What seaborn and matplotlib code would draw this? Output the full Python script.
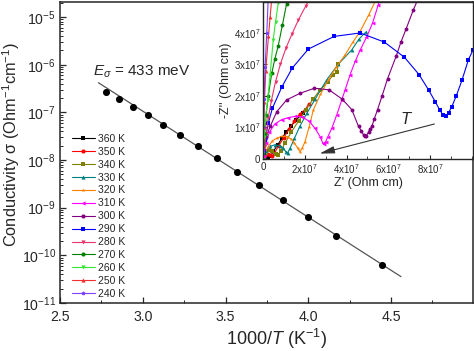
import numpy as np
import pandas as pd
import matplotlib
matplotlib.use('Agg')
import matplotlib.pyplot as plt
import matplotlib.ticker as mticker
import seaborn as sns

# Arrhenius plot data
temps = [360, 350, 340, 330, 320, 310, 300, 290, 280, 270, 260, 250, 240, 225]
sigma = [2.67e-7, 1.88e-7, 1.29e-7, 8.67e-8, 5.42e-8, 3.40e-8, 1.94e-8,
         1.09e-8, 5.69e-9, 2.95e-9, 1.43e-9, 6.47e-10, 2.58e-10, 6.37e-11]
fit_x = [2.732, 4.56]
fit_y = [4.19e-7, 3.57e-11]

# Nyquist data for the inset, both axes in units of 1e7 Ohm cm
zre_360 = [0.02, 0.08, 0.16, 0.25, 0.35, 0.5, 0.7, 0.9, 1.1, 1.35, 1.6, 1.93]
zim_360 = [0.02, 0.06, 0.08, 0.05, 0.08, 0.25, 0.45, 0.65, 0.85, 1.05, 1.25, 1.45]
zre_350 = [0.02, 0.1, 0.22, 0.35, 0.45, 0.55, 0.75, 1.0, 1.25, 1.5, 1.75, 2.01, 2.2]
zim_350 = [0.03, 0.12, 0.17, 0.12, 0.08, 0.2, 0.42, 0.68, 0.95, 1.2, 1.42, 1.56, 1.75]
zre_340 = [0.03, 0.15, 0.3, 0.45, 0.6, 0.72, 0.85, 1.05, 1.35, 1.7, 2.05, 2.4, 2.75, 3.1, 3.35, 3.53, 3.61]
zim_340 = [0.05, 0.2, 0.28, 0.25, 0.15, 0.12, 0.25, 0.5, 0.85, 1.2, 1.55, 1.9, 2.2, 2.45, 2.65, 2.74, 3.02]
zre_330 = [0.03, 0.15, 0.35, 0.57, 0.8, 0.97, 1.1, 1.18, 1.3, 1.5, 1.76, 2.1, 2.5, 3.04, 3.6, 4.24, 4.6, 4.92]
zim_330 = [0.05, 0.25, 0.4, 0.45, 0.42, 0.35, 0.22, 0.2, 0.35, 0.65, 1.03, 1.45, 1.9, 2.5, 3.0, 3.45, 3.8, 4.02]
zre_320 = [0.03, 0.1, 0.25, 0.45, 0.66, 0.9, 1.13, 1.35, 1.5, 1.66, 1.77, 1.88, 2.01, 2.2, 2.41,
           2.75, 3.13, 3.5, 3.93, 4.3, 4.65, 5.05, 5.45]
zim_320 = [0.05, 0.2, 0.39, 0.58, 0.66, 0.72, 0.71, 0.63, 0.5, 0.35, 0.23, 0.35, 0.55, 1.0, 1.56,
           2.05, 2.51, 2.9, 3.3, 3.7, 4.04, 4.55, 5.1]
zre_310 = [0.03, 0.15, 0.3, 0.57, 0.9, 1.21, 1.55, 1.85, 2.2, 2.49, 2.73, 2.85, 2.92, 3.0, 3.1,
           3.29, 3.53, 3.77, 3.93, 4.17, 4.41, 4.65, 4.95, 5.24, 5.52, 5.62]
zim_310 = [0.1, 0.5, 0.85, 1.11, 1.25, 1.31, 1.35, 1.34, 1.2, 0.97, 0.71, 0.52, 0.46, 0.55, 0.7,
           0.97, 1.4, 1.87, 2.19, 2.67, 3.09, 3.45, 3.85, 4.3, 4.89, 5.1]
zre_300 = [0.05, 0.15, 0.34, 0.66, 1.13, 1.77, 2.46, 3.16, 3.8, 4.25, 4.57, 4.7, 4.81, 4.89, 4.95,
           5.05, 5.12, 5.21, 5.32, 5.48, 5.69, 5.96, 6.37, 6.6, 6.85, 7.2, 7.44]
zim_300 = [0.3, 0.7, 1.03, 1.5, 1.87, 2.08, 2.24, 2.19, 1.89, 1.56, 1.03, 0.9, 0.76, 0.72, 0.74,
           0.85, 0.95, 1.03, 1.26, 1.56, 1.98, 2.54, 3.25, 3.7, 4.12, 4.73, 5.1]
zre_290 = [0.03, 0.1, 0.25, 0.45, 0.9, 1.4, 2.17, 3.4, 4.65, 5.81, 6.77, 7.47, 7.92, 8.24, 8.45,
           8.61, 8.77, 8.88, 9.04, 9.25, 9.52, 9.83, 10.04]
zim_290 = [0.2, 0.6, 1.13, 1.61, 2.28, 2.88, 3.48, 3.88, 3.99, 3.7, 3.22, 2.67, 2.19, 1.82, 1.56,
           1.4, 1.37, 1.47, 1.66, 2.0, 2.49, 3.14, 3.44]
zre_280 = [0.02, 0.08, 0.15, 0.25, 0.4, 0.6, 0.83, 1.09, 1.38, 1.69, 2.05, 2.25]
zim_280 = [0.1, 0.4, 0.8, 1.3, 1.85, 2.45, 3.0, 3.5, 3.95, 4.4, 4.85, 5.1]
zre_270 = [0.02, 0.08, 0.15, 0.25, 0.42, 0.56, 0.73, 0.93, 1.13, 1.2]
zim_270 = [0.2, 0.8, 1.4, 2.0, 2.72, 3.15, 3.59, 4.25, 4.92, 5.1]
zre_260 = [0.01, 0.05, 0.1, 0.22, 0.34, 0.49, 0.6, 0.73, 0.78]
zim_260 = [0.2, 0.7, 1.2, 1.87, 2.67, 3.78, 4.35, 4.94, 5.1]
zre_250 = [0.01, 0.03, 0.07, 0.13, 0.26, 0.34, 0.42]
zim_250 = [0.3, 1.0, 1.8, 2.8, 3.88, 4.5, 5.1]
zre_240 = [0.005, 0.02, 0.05, 0.1, 0.18, 0.25]
zim_240 = [0.3, 1.0, 1.9, 2.9, 3.99, 5.1]

labels = ['360 K', '350 K', '340 K', '330 K', '320 K', '310 K', '300 K',
          '290 K', '280 K', '270 K', '260 K', '250 K', '240 K']
colors = ['#000000', '#FF0000', '#808000', '#008080', '#FF8000', '#FF00FF', '#800080',
          '#0000FF', '#E8336B', '#008000', '#33E633', '#F03030', '#7F3FFF']
markers = ['s', 'o', 's', '^', '*', '<', 'o', 's', 'v', 'o', 'v', '^', 'p']

zre = [zre_360, zre_350, zre_340, zre_330, zre_320, zre_310, zre_300,
       zre_290, zre_280, zre_270, zre_260, zre_250, zre_240]
zim = [zim_360, zim_350, zim_340, zim_330, zim_320, zim_310, zim_300,
       zim_290, zim_280, zim_270, zim_260, zim_250, zim_240]

rows = []
for lab, xs, ys in zip(labels, zre, zim):
    for i, (a, b) in enumerate(zip(xs, ys)):
        rows.append((lab, i, a * 1e7, b * 1e7))
nyq = pd.DataFrame(rows, columns=['T', 'i', 'Zre', 'Zim'])

arr = pd.DataFrame({'x': [1000 / t for t in temps], 'sigma': sigma})
fit = pd.DataFrame({'x': fit_x, 'sigma': fit_y})

sns.set_style('ticks')
plt.rcParams['font.family'] = ['Liberation Sans', 'DejaVu Sans']
plt.rcParams['mathtext.fontset'] = 'custom'
plt.rcParams['mathtext.rm'] = 'Liberation Sans'
plt.rcParams['mathtext.it'] = 'Liberation Sans:italic'
plt.rcParams['mathtext.bf'] = 'Liberation Sans:bold'

fig = plt.figure(figsize=(4.74, 3.51), dpi=100)
ax = fig.add_axes([0.1266, 0.1368, 0.8713, 0.8575])

sns.lineplot(data=fit, x='x', y='sigma', color='#555555', lw=0.9, ax=ax)
sns.scatterplot(data=arr, x='x', y='sigma', color='black', s=26, edgecolor='black',
                linewidth=0, ax=ax, zorder=3)
ax.set_yscale('log')
ax.set_xlim(2.5, 4.995)
ax.set_ylim(1e-11, 2.07e-5)
ax.xaxis.set_major_locator(mticker.MultipleLocator(0.5))
ax.xaxis.set_minor_locator(mticker.MultipleLocator(0.25))
ax.yaxis.set_major_locator(mticker.LogLocator(base=10, numticks=20))
ax.yaxis.set_minor_locator(mticker.LogLocator(base=10, subs=np.arange(2, 10), numticks=20))
ax.yaxis.set_minor_formatter(mticker.NullFormatter())
ax.tick_params(which='both', direction='in', labelsize=10.2)
ax.tick_params(axis='x', pad=5)
ax.tick_params(axis='y', pad=3)
ax.tick_params(which='major', length=4, width=0.9)
ax.tick_params(which='minor', length=2.5, width=0.7)
for sp in ax.spines.values():
    sp.set_linewidth(1.1)
ax.set_xlabel(r'1000/$T$ (K$^{-1}$)', fontsize=13)
ax.set_ylabel(r'Conductivity σ (Ohm$^{-1}$cm$^{-1}$)', fontsize=11.8)
ax.yaxis.set_label_coords(-0.091, 0.525)
ax.xaxis.set_label_coords(0.525, -0.08)
ax.text(2.70, 7e-7, r'$E_\sigma$ = 433 meV', fontsize=11, va='center', ha='left')

# inset: Nyquist plots
ins = fig.add_axes([0.5549, 0.5470, 0.4430, 0.4473])
sns.lineplot(data=nyq, x='Zre', y='Zim', hue='T', style='T', hue_order=labels,
             style_order=labels, palette=colors, markers=markers, dashes=False,
             sort=False, estimator=None, units='T', lw=0.8, markersize=2.8,
             markeredgewidth=0, ax=ins)
handles, labs = ins.get_legend_handles_labels()
ins.get_legend().remove()
ins.set_xlim(0, 1.005e8)
ins.set_ylim(0, 4.97e7)
ins.set_xticks([0, 2e7, 4e7, 6e7, 8e7])
ins.set_yticks([0, 1e7, 2e7, 3e7, 4e7])
ins.xaxis.set_minor_locator(mticker.MultipleLocator(1e7))


def sci(v, pos):
    if v == 0:
        return '0'
    return r'$\mathdefault{%dx10^{7}}$' % round(v / 1e7)


ins.xaxis.set_major_formatter(mticker.FuncFormatter(sci))
ins.yaxis.set_major_formatter(mticker.FuncFormatter(sci))
ins.tick_params(which='both', direction='in', labelsize=7, pad=2)
ins.tick_params(which='major', length=3, width=0.8)
ins.tick_params(which='minor', length=2, width=0.6)
for sp in ins.spines.values():
    sp.set_linewidth(1.0)
ins.set_xlabel("Z' (Ohm cm)", fontsize=9, labelpad=1)
ins.set_ylabel("-Z'' (Ohm cm)", fontsize=9, labelpad=1)
ins.annotate('', xy=(2.58e7, 0.15e7), xytext=(8.33e7, 1.13e7),
             arrowprops=dict(arrowstyle='-|>,head_length=0.9,head_width=0.22',
                             color='#333333', lw=0.8))
ins.text(6.8e7, 1.25e7, 'T', fontsize=12, style='italic', ha='center', va='center')

leg = ax.legend(handles, labs, loc='lower left', bbox_to_anchor=(0.018, 0.0),
                frameon=False, fontsize=7.5, handlelength=2.2, handletextpad=0.3,
                labelspacing=0.28, borderpad=0.3, borderaxespad=0.1)
for h in leg.legend_handles:
    h.set_markersize(3)

fig.savefig('out.png', dpi=100)
